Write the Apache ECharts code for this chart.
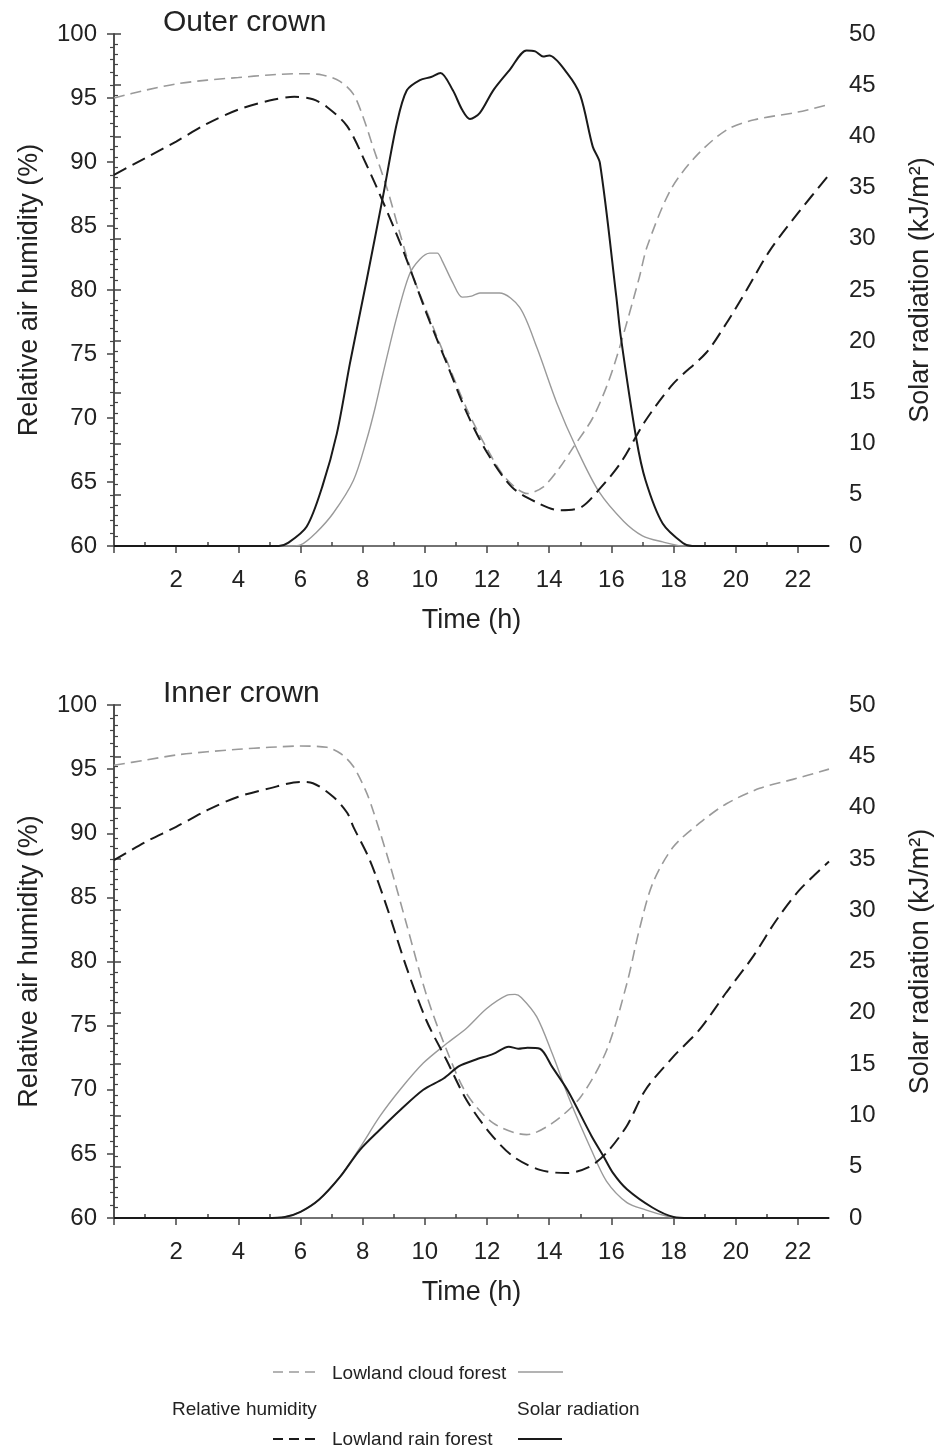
<!DOCTYPE html>
<html>
<head>
<meta charset="utf-8">
<script src="https://cdn.jsdelivr.net/npm/echarts@6/dist/echarts.min.js"></script>
<style>
html,body{margin:0;padding:0;background:#fff;}
#chart{width:939px;height:1452px;}
</style>
</head>
<body>
<div id="chart"></div>
<script>
// ---- Data (hour, value) ----
// Outer crown
var outerCloudRH = [[0,95.0],[1,95.6],[2,96.1],[3,96.4],[4,96.6],[5,96.8],[6,96.9],[6.7,96.8],[7.27,96.3],[7.7,95.3],[8.0,93.6],[8.33,91.2],[8.8,87.8],[9.2,84.4],[9.6,81.2],[10.05,78.4],[10.7,74.5],[11.35,70.7],[12.0,67.6],[12.6,65.3],[13.3,64.1],[13.8,64.6],[14.3,66.0],[14.8,67.8],[15.4,70.0],[15.9,72.8],[16.3,75.8],[16.9,81.0],[17.15,83.4],[17.9,87.8],[18.7,90.4],[19.7,92.5],[20.6,93.3],[22,93.9],[23,94.5]];
var outerRainRH = [[0,89.0],[1,90.3],[2,91.6],[3,93.0],[4,94.1],[5,94.8],[5.8,95.1],[6.4,94.9],[6.85,94.3],[7.5,92.8],[8.1,89.9],[8.65,86.9],[9.3,83.1],[10.05,78.2],[10.7,74.3],[11.35,70.4],[12.0,67.3],[12.8,64.6],[13.6,63.4],[14.3,62.8],[15.0,63.0],[15.6,64.4],[16.3,66.5],[17.1,69.8],[18.0,72.7],[19.05,75.1],[19.7,77.4],[20.35,80.0],[21.1,83.1],[22.0,86.0],[23,89.0]];
var outerCloudSR = [[0,0],[3,0],[5.7,0],[6.0,0.1],[6.5,1.3],[7.05,3.2],[7.7,6.4],[8.13,10.4],[8.4,13.5],[8.65,16.8],[9.1,22.4],[9.5,26.5],[9.84,28.0],[10.16,28.6],[10.4,28.6],[10.55,27.9],[10.9,25.7],[11.2,24.3],[11.5,24.4],[11.77,24.7],[12.4,24.7],[13.05,23.3],[13.6,19.4],[14.24,14.0],[14.9,9.4],[15.6,5.3],[16.4,2.4],[17.0,1.0],[17.65,0.4],[18.3,0],[20,0],[23,0]];
var outerRainSR = [[0,0],[3,0],[5.3,0],[5.6,0.3],[6.2,1.9],[6.7,5.8],[7.17,11.0],[7.6,18.0],[8.13,26.0],[8.65,34.1],[9.1,41.3],[9.42,44.5],[9.84,45.5],[10.2,45.8],[10.5,46.2],[10.9,44.5],[11.2,42.6],[11.45,41.7],[11.77,42.3],[12.2,44.5],[12.73,46.5],[13.27,48.4],[13.55,48.3],[13.8,47.8],[14.0,47.9],[14.57,46.2],[15.0,44.0],[15.4,39.0],[15.63,37.4],[16.16,24.3],[16.3,20.5],[16.8,10.5],[17.1,6.4],[17.65,2.2],[18.3,0.3],[18.6,0],[20,0],[23,0]];
// Inner crown
var innerCloudRH = [[0,95.3],[1,95.7],[2,96.1],[3,96.35],[4,96.55],[5,96.7],[6,96.8],[6.85,96.7],[7.3,96.2],[7.7,95.2],[8.1,93.3],[8.33,91.8],[8.87,87.6],[9.4,83.0],[10.05,77.4],[10.7,73.1],[11.34,69.7],[12.2,67.4],[13.27,66.5],[14.1,67.4],[15.0,69.4],[15.85,73.1],[16.5,78.3],[16.9,82.5],[17.33,86.1],[17.98,88.9],[18.84,90.8],[19.7,92.3],[20.77,93.5],[21.84,94.2],[23,95.0]];
var innerRainRH = [[0,87.9],[1,89.3],[2,90.5],[3,91.8],[4,92.85],[5,93.5],[6,94.0],[6.4,93.9],[7.05,92.85],[7.5,91.6],[7.7,90.5],[8.23,87.9],[8.77,84.3],[9.4,79.6],[10.05,75.4],[10.7,72.3],[11.34,69.2],[12.1,66.6],[12.84,64.8],[13.7,63.75],[14.55,63.5],[15.3,64.0],[15.85,65.1],[16.5,67.2],[17.1,70.0],[18.0,72.6],[18.84,74.7],[19.7,77.6],[20.56,80.4],[21.3,83.2],[22.06,85.6],[23,87.8]];
var innerCloudSR = [[0,0],[3,0],[4.9,0],[5.5,0.1],[6.0,0.6],[6.6,1.8],[7.27,4.0],[7.9,6.8],[8.55,9.9],[9.2,12.5],[9.95,15.1],[10.7,17.0],[11.34,18.5],[11.98,20.4],[12.63,21.7],[12.9,21.8],[13.1,21.5],[13.6,19.6],[14.1,16.0],[14.66,11.5],[15.36,6.6],[15.84,3.6],[16.5,1.5],[17.1,0.8],[17.77,0.2],[18.2,0],[20,0],[23,0]];
var innerRainSR = [[0,0],[3,0],[4.9,0],[5.5,0.1],[6.0,0.6],[6.6,1.8],[7.27,4.0],[7.9,6.6],[8.55,8.6],[9.2,10.5],[9.95,12.5],[10.6,13.6],[11.1,14.8],[11.6,15.4],[12.2,16.0],[12.7,16.7],[13.0,16.5],[13.3,16.6],[13.7,16.5],[14.1,14.7],[14.6,12.4],[15.36,8.0],[15.75,6.0],[16.05,4.4],[16.5,2.8],[17.33,1.0],[18.0,0.1],[18.5,0],[20,0],[23,0]];

var xMajorTicks = [0,2,4,6,8,10,12,14,16,18,20,22];
var xLabels = [2,4,6,8,10,12,14,16,18,20,22];
var xMinorTicks = [1,3,5,7,9,11,13,15,17,19,21];

var FONT = 'Liberation Sans, Arial, sans-serif';
var AX = '#444';
var TXT = '#222';
var GRAY = '#9a9a9a';
var BLACK = '#1a1a1a';

function mainX(gi){
  return {
    type:'value', gridIndex:gi, min:0, max:23, interval:1,
    axisLine:{show:true, onZero:false, lineStyle:{color:AX, width:1.5}},
    axisTick:{show:true, length:7, customValues:xMajorTicks, lineStyle:{color:AX, width:1.5}},
    axisLabel:{show:true, customValues:xLabels, fontSize:24, color:TXT, fontFamily:FONT, margin:22},
    splitLine:{show:false},
    name:'Time (h)', nameLocation:'middle', nameGap:61,
    nameTextStyle:{fontSize:27, color:TXT, fontFamily:FONT}
  };
}
function minorX(gi){
  return {
    type:'value', gridIndex:gi, min:0, max:23, interval:1,
    axisLine:{show:false},
    axisTick:{show:true, length:4, customValues:xMinorTicks, lineStyle:{color:AX, width:1.5}},
    axisLabel:{show:false}, splitLine:{show:false}
  };
}
function leftY(gi){
  return {
    type:'value', gridIndex:gi, position:'left', min:60, max:100, interval:5,
    axisLine:{show:true, lineStyle:{color:AX, width:1.5}},
    axisTick:{show:true, length:7, lineStyle:{color:AX, width:1.5}},
    minorTick:{show:true, splitNumber:5, length:4, lineStyle:{color:AX, width:1.2}},
    axisLabel:{fontSize:24, color:TXT, fontFamily:FONT, margin:17},
    splitLine:{show:false},
    name:'Relative air humidity (%)', nameLocation:'middle', nameGap:71, nameRotate:90,
    nameTextStyle:{fontSize:27, color:TXT, fontFamily:FONT}
  };
}
function rightY(gi){
  return {
    type:'value', gridIndex:gi, position:'right', min:0, max:50, interval:5,
    axisLine:{show:true, lineStyle:{color:AX, width:1.5}},
    axisTick:{show:true, length:7, lineStyle:{color:AX, width:1.5}},
    minorTick:{show:true, splitNumber:5, length:4, lineStyle:{color:AX, width:1.2}},
    axisLabel:{fontSize:24, color:TXT, fontFamily:FONT, margin:20},
    splitLine:{show:false},
    name:'Solar radiation (kJ/m²)', nameLocation:'middle', nameGap:78, nameRotate:90,
    nameTextStyle:{fontSize:27, color:TXT, fontFamily:FONT}
  };
}
function ser(data, xi, yi, color, width, dash, z){
  return {
    type:'line', data:data, xAxisIndex:xi, yAxisIndex:yi,
    showSymbol:false, symbol:'none', smooth:0.3,
    lineStyle:{color:color, width:width, type:dash}, z:z, silent:true, animation:false
  };
}

var chart = echarts.init(document.getElementById('chart'), null, {renderer:'canvas'});
var option = {
  animation:false,
  backgroundColor:'#fff',
  textStyle:{fontFamily:FONT},
  title:[
    {text:'Outer crown', left:158, top:3, textStyle:{fontSize:30, fontWeight:'normal', color:TXT, fontFamily:FONT}},
    {text:'Inner crown', left:158, top:674, textStyle:{fontSize:30, fontWeight:'normal', color:TXT, fontFamily:FONT}}
  ],
  grid:[
    {left:114, top:34, width:715, height:512, outerBoundsMode:'none', containLabel:false},
    {left:114, top:705, width:715, height:513, outerBoundsMode:'none', containLabel:false}
  ],
  xAxis:[mainX(0), minorX(0), mainX(1), minorX(1)],
  yAxis:[leftY(0), rightY(0), leftY(1), rightY(1)],
  series:[
    ser(outerCloudRH, 0, 0, GRAY, 1.6, [11,6], 2),
    ser(outerCloudSR, 0, 1, GRAY, 1.4, 'solid', 2),
    ser(outerRainRH, 0, 0, BLACK, 2, [14,7], 3),
    ser(outerRainSR, 0, 1, BLACK, 2, 'solid', 3),
    ser(innerCloudRH, 2, 2, GRAY, 1.6, [11,6], 2),
    ser(innerCloudSR, 2, 3, GRAY, 1.4, 'solid', 2),
    ser(innerRainRH, 2, 2, BLACK, 2, [14,7], 3),
    ser(innerRainSR, 2, 3, BLACK, 2, 'solid', 3)
  ],
  graphic:[
    {type:'line', shape:{x1:273,y1:1372,x2:315,y2:1372}, style:{stroke:GRAY, lineWidth:1.6, lineDash:[10,6]}},
    {type:'text', left:332, top:1364, style:{text:'Lowland cloud forest', font:'19px '+FONT, fill:TXT}},
    {type:'line', shape:{x1:518,y1:1372,x2:563,y2:1372}, style:{stroke:GRAY, lineWidth:1.4}},
    {type:'text', left:172, top:1400, style:{text:'Relative humidity', font:'19px '+FONT, fill:TXT}},
    {type:'text', left:517, top:1400, style:{text:'Solar radiation', font:'19px '+FONT, fill:TXT}},
    {type:'line', shape:{x1:273,y1:1439,x2:316,y2:1439}, style:{stroke:BLACK, lineWidth:2, lineDash:[10,6]}},
    {type:'text', left:332, top:1430, style:{text:'Lowland rain forest', font:'19px '+FONT, fill:TXT}},
    {type:'line', shape:{x1:518,y1:1439,x2:562,y2:1439}, style:{stroke:BLACK, lineWidth:2}}
  ]
};
chart.setOption(option);
</script>
</body>
</html>
